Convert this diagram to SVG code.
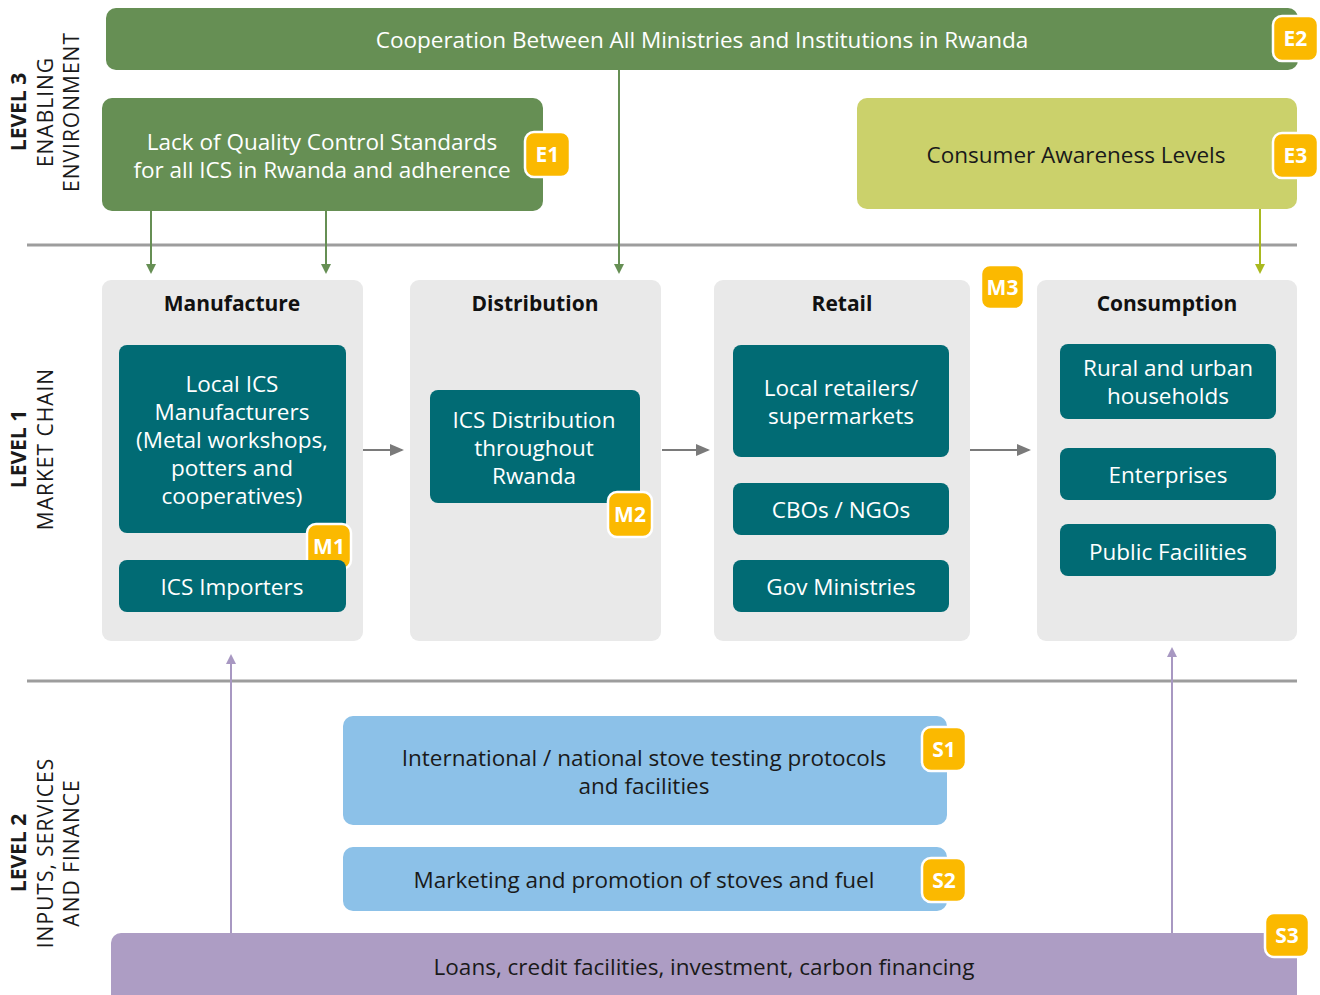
<svg xmlns="http://www.w3.org/2000/svg" width="1320" height="995" viewBox="0 0 1320 995">
<defs>
<style>
text{font-family:"Open Sans","Noto Sans","Liberation Sans",sans-serif;}
.w{fill:#fff;font-size:22.5px;text-anchor:middle;}
.k{fill:#1a1a1a;font-size:22.5px;text-anchor:middle;}
.h{fill:#111;font-size:21px;font-weight:bold;text-anchor:middle;}
.teal{fill:#016b74;}
.panel{fill:#e9e9e9;}
.badge rect{fill:#fbb900;stroke:#fff;stroke-width:2.5;}
.badge text{fill:#fff;font-size:21px;font-weight:bold;text-anchor:middle;}
.lv{fill:#1a1a1a;font-size:21px;text-anchor:middle;}
.lvb{font-weight:bold;}
.sep{stroke:#9d9d9d;stroke-width:3;}
.ga{stroke:#668f54;stroke-width:2;fill:none;}
.ya{stroke:#a9b91f;stroke-width:2;fill:none;}
.pa{stroke:#a898c2;stroke-width:2;fill:none;}
.ca{stroke:#7a7a7a;stroke-width:2;fill:none;}
</style>
<marker id="mg" markerWidth="10" markerHeight="10" refX="8" refY="5" orient="auto" markerUnits="userSpaceOnUse" viewBox="0 0 10 10"><path d="M0,0 L10,5 L0,10 z" fill="#668f54"/></marker>
<marker id="my" markerWidth="10" markerHeight="10" refX="8" refY="5" orient="auto" markerUnits="userSpaceOnUse" viewBox="0 0 10 10"><path d="M0,0 L10,5 L0,10 z" fill="#a9b91f"/></marker>
<marker id="mp" markerWidth="10" markerHeight="10" refX="8" refY="5" orient="auto" markerUnits="userSpaceOnUse" viewBox="0 0 10 10"><path d="M0,0 L10,5 L0,10 z" fill="#a898c2"/></marker>
<marker id="mc" markerWidth="14" markerHeight="12" refX="12" refY="6" orient="auto" markerUnits="userSpaceOnUse" viewBox="0 0 14 12"><path d="M0,0 L14,6 L0,12 z" fill="#7a7a7a"/></marker>
</defs>
<rect width="1320" height="995" fill="#fff"/>

<!-- level labels -->
<g id="level3">
<text class="lv lvb" transform="translate(26,112) rotate(-90)">LEVEL 3</text>
<text class="lv" transform="translate(53,112) rotate(-90)" letter-spacing="1">ENABLING</text>
<text class="lv" transform="translate(79,112) rotate(-90)" letter-spacing="1">ENVIRONMENT</text>
</g>
<g id="level1">
<text class="lv lvb" transform="translate(26,449) rotate(-90)">LEVEL 1</text>
<text class="lv" transform="translate(53,449) rotate(-90)" letter-spacing="1">MARKET CHAIN</text>
</g>
<g id="level2">
<text class="lv lvb" transform="translate(26,853) rotate(-90)">LEVEL 2</text>
<text class="lv" transform="translate(53,853) rotate(-90)" letter-spacing="1">INPUTS, SERVICES</text>
<text class="lv" transform="translate(79,853) rotate(-90)" letter-spacing="1">AND FINANCE</text>
</g>

<line class="sep" x1="27" y1="245" x2="1297" y2="245"/>
<line class="sep" x1="27" y1="681" x2="1297" y2="681"/>

<!-- panels -->
<g id="manufacture">
<rect class="panel" x="102" y="280" width="261" height="361" rx="9"/>
<text class="h" x="232" y="311">Manufacture</text>
</g>
<g id="distribution">
<rect class="panel" x="410" y="280" width="251" height="361" rx="9"/>
<text class="h" x="535" y="311">Distribution</text>
</g>
<g id="retail">
<rect class="panel" x="714" y="280" width="256" height="361" rx="9"/>
<text class="h" x="842" y="311">Retail</text>
</g>
<g id="consumption">
<rect class="panel" x="1037" y="280" width="260" height="361" rx="9"/>
<text class="h" x="1167" y="311">Consumption</text>
</g>

<!-- connectors -->
<g id="connectors">
<line class="ga" x1="151" y1="211" x2="151" y2="272" marker-end="url(#mg)"/>
<line class="ga" x1="326" y1="211" x2="326" y2="272" marker-end="url(#mg)"/>
<line class="ga" x1="619" y1="70" x2="619" y2="272" marker-end="url(#mg)"/>
<line class="ya" x1="1260" y1="209" x2="1260" y2="272" marker-end="url(#my)"/>
<line class="ca" x1="363" y1="450" x2="402" y2="450" marker-end="url(#mc)"/>
<line class="ca" x1="662" y1="450" x2="708" y2="450" marker-end="url(#mc)"/>
<line class="ca" x1="970" y1="450" x2="1029" y2="450" marker-end="url(#mc)"/>
<line class="pa" x1="231" y1="933" x2="231" y2="656" marker-end="url(#mp)"/>
<line class="pa" x1="1172" y1="933" x2="1172" y2="649" marker-end="url(#mp)"/>
</g>

<!-- level 3 nodes -->
<g id="e2">
<rect x="106" y="8" width="1192" height="62" rx="10" fill="#668f54"/>
<text class="w" x="702" y="48">Cooperation Between All Ministries and Institutions in Rwanda</text>
<g class="badge"><rect x="1273" y="16" width="45" height="45" rx="9"/><text x="1295.5" y="46">E2</text></g>
</g>
<g id="e1">
<rect x="102" y="98" width="441" height="113" rx="10" fill="#668f54"/>
<text class="w" x="322" y="150">Lack of Quality Control Standards</text>
<text class="w" x="322" y="178">for all ICS in Rwanda and adherence</text>
<g class="badge"><rect x="525" y="132" width="45" height="45" rx="9"/><text x="547.5" y="162">E1</text></g>
</g>
<g id="e3">
<rect x="857" y="98" width="440" height="111" rx="10" fill="#cbd16b"/>
<text class="k" x="1076" y="163">Consumer Awareness Levels</text>
<g class="badge"><rect x="1273" y="133" width="45" height="45" rx="9"/><text x="1295.5" y="163">E3</text></g>
</g>

<!-- level 1 nodes -->
<g id="m-local">
<rect class="teal" x="119" y="345" width="227" height="188" rx="8"/>
<text class="w" x="232" y="392">Local ICS</text>
<text class="w" x="232" y="420">Manufacturers</text>
<text class="w" x="232" y="448">(Metal workshops,</text>
<text class="w" x="232" y="476">potters and</text>
<text class="w" x="232" y="504">cooperatives)</text>
<g class="badge"><rect x="307" y="524" width="44" height="45" rx="9"/><text x="329" y="554">M1</text></g>
</g>
<g id="m-importers">
<rect class="teal" x="119" y="560" width="227" height="52" rx="8"/>
<text class="w" x="232" y="595">ICS Importers</text>
</g>
<g id="d-ics">
<rect class="teal" x="430" y="390" width="210" height="113" rx="8"/>
<text class="w" x="534" y="428">ICS Distribution</text>
<text class="w" x="534" y="456">throughout</text>
<text class="w" x="534" y="484">Rwanda</text>
<g class="badge"><rect x="608" y="492" width="44" height="45" rx="9"/><text x="630" y="522">M2</text></g>
</g>
<g id="r-local">
<rect class="teal" x="733" y="345" width="216" height="112" rx="8"/>
<text class="w" x="841" y="396">Local retailers/</text>
<text class="w" x="841" y="424">supermarkets</text>
</g>
<g id="r-cbo">
<rect class="teal" x="733" y="483" width="216" height="52" rx="8"/>
<text class="w" x="841" y="518">CBOs / NGOs</text>
</g>
<g id="r-gov">
<rect class="teal" x="733" y="560" width="216" height="52" rx="8"/>
<text class="w" x="841" y="595">Gov Ministries</text>
</g>
<g id="m3">
<g class="badge"><rect x="981" y="265" width="43" height="44" rx="9"/><text x="1002.5" y="295">M3</text></g>
</g>
<g id="c-rural">
<rect class="teal" x="1060" y="344" width="216" height="75" rx="8"/>
<text class="w" x="1168" y="376">Rural and urban</text>
<text class="w" x="1168" y="404">households</text>
</g>
<g id="c-ent">
<rect class="teal" x="1060" y="448" width="216" height="52" rx="8"/>
<text class="w" x="1168" y="483">Enterprises</text>
</g>
<g id="c-pub">
<rect class="teal" x="1060" y="524" width="216" height="52" rx="8"/>
<text class="w" x="1168" y="560">Public Facilities</text>
</g>

<!-- level 2 nodes -->
<g id="s1">
<rect x="343" y="716" width="604" height="109" rx="10" fill="#8cc1e8"/>
<text class="k" x="644" y="766">International / national stove testing protocols</text>
<text class="k" x="644" y="794">and facilities</text>
<g class="badge"><rect x="922" y="727" width="44" height="44" rx="9"/><text x="944" y="757">S1</text></g>
</g>
<g id="s2">
<rect x="343" y="847" width="604" height="64" rx="10" fill="#8cc1e8"/>
<text class="k" x="644" y="888">Marketing and promotion of stoves and fuel</text>
<g class="badge"><rect x="922" y="858" width="44" height="44" rx="9"/><text x="944" y="888">S2</text></g>
</g>
<g id="s3">
<rect x="111" y="933" width="1186" height="75" rx="10" fill="#ad9dc4"/>
<text class="k" x="704" y="975">Loans, credit facilities, investment, carbon financing</text>
<g class="badge"><rect x="1265" y="913" width="44" height="44" rx="9"/><text x="1287" y="943">S3</text></g>
</g>
</svg>
